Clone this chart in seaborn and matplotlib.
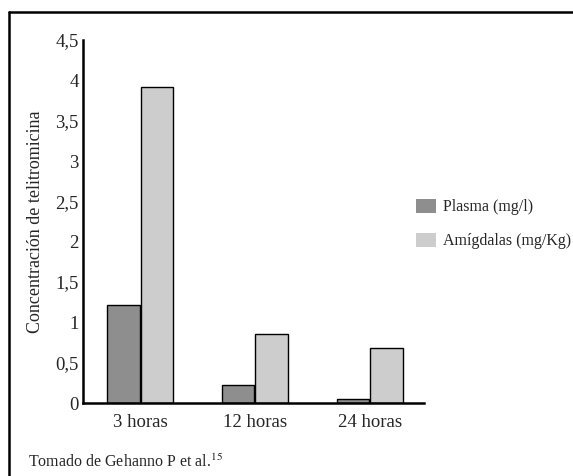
import pandas as pd
import seaborn as sns
import matplotlib.pyplot as plt
from matplotlib.lines import Line2D

# datos
tiempos = ["3 horas", "12 horas", "24 horas"]
plasma = [1.22, 0.22, 0.05]
amigdalas = [3.92, 0.86, 0.68]
series = ["Plasma (mg/l)", "Amígdalas (mg/Kg)"]
yticks = [0, 0.5, 1, 1.5, 2, 2.5, 3, 3.5, 4, 4.5]
ytick_labels = ["0", "0,5", "1", "1,5", "2", "2,5", "3", "3,5", "4", "4,5"]

df = pd.DataFrame({
    "tiempo": tiempos * 2,
    "valor": plasma + amigdalas,
    "serie": [series[0]] * 3 + [series[1]] * 3,
})

sns.set_style("white")
plt.rcParams["font.family"] = ["Liberation Serif", "DejaVu Serif"]
plt.rcParams["mathtext.fontset"] = "stix"

fig = plt.figure(figsize=(5.73, 4.76), dpi=100)
ax = fig.add_axes([83 / 573, 73 / 476, 341 / 573, 363 / 476])

sns.barplot(data=df, x="tiempo", y="valor", hue="serie", ax=ax,
            palette=["#8e8e8e", "#cdcdcd"], width=0.58, gap=0.03,
            edgecolor="black", linewidth=1.0, saturation=1)

ax.set_xlim(-0.496, 2.47)
ax.set_ylim(0, 4.5)
ax.set_yticks(yticks)
ax.set_yticklabels(ytick_labels)
ax.tick_params(axis="both", length=0, labelsize=13.5, pad=3)
ax.tick_params(axis="x", pad=8)
ax.set_xlabel("")
ax.set_ylabel("Concentración de telitromicina", fontsize=13, labelpad=8)
for s in ["top", "right"]:
    ax.spines[s].set_visible(False)
for s in ["left", "bottom"]:
    ax.spines[s].set_linewidth(1.8)
    ax.spines[s].set_color("black")

# leyenda
handles, labels = ax.get_legend_handles_labels()
ax.legend_.remove()
fig.legend(handles, labels, loc="upper left", bbox_to_anchor=(416 / 573, 1 - 199 / 476),
           frameon=False, fontsize=11.5, handlelength=1.25, handleheight=0.95,
           handletextpad=0.45, labelspacing=1.1, borderpad=0, borderaxespad=0)
for h in fig.legends[0].legend_handles:
    h.set_edgecolor("none")

# marco exterior (solo izquierda y arriba visibles)
fig.add_artist(Line2D([9 / 573, 9 / 573], [0, 1 - 12 / 476], color="black", lw=1.8,
                      transform=fig.transFigure))
fig.add_artist(Line2D([9 / 573, 1], [1 - 12 / 476, 1 - 12 / 476], color="black", lw=1.8,
                      transform=fig.transFigure))

fig.text(28 / 573, 1 - 462 / 476, "Tomado de Gehanno P et al.$^{15}$",
         fontsize=11.5, va="center", ha="left")

fig.savefig("out.png", dpi=100)
